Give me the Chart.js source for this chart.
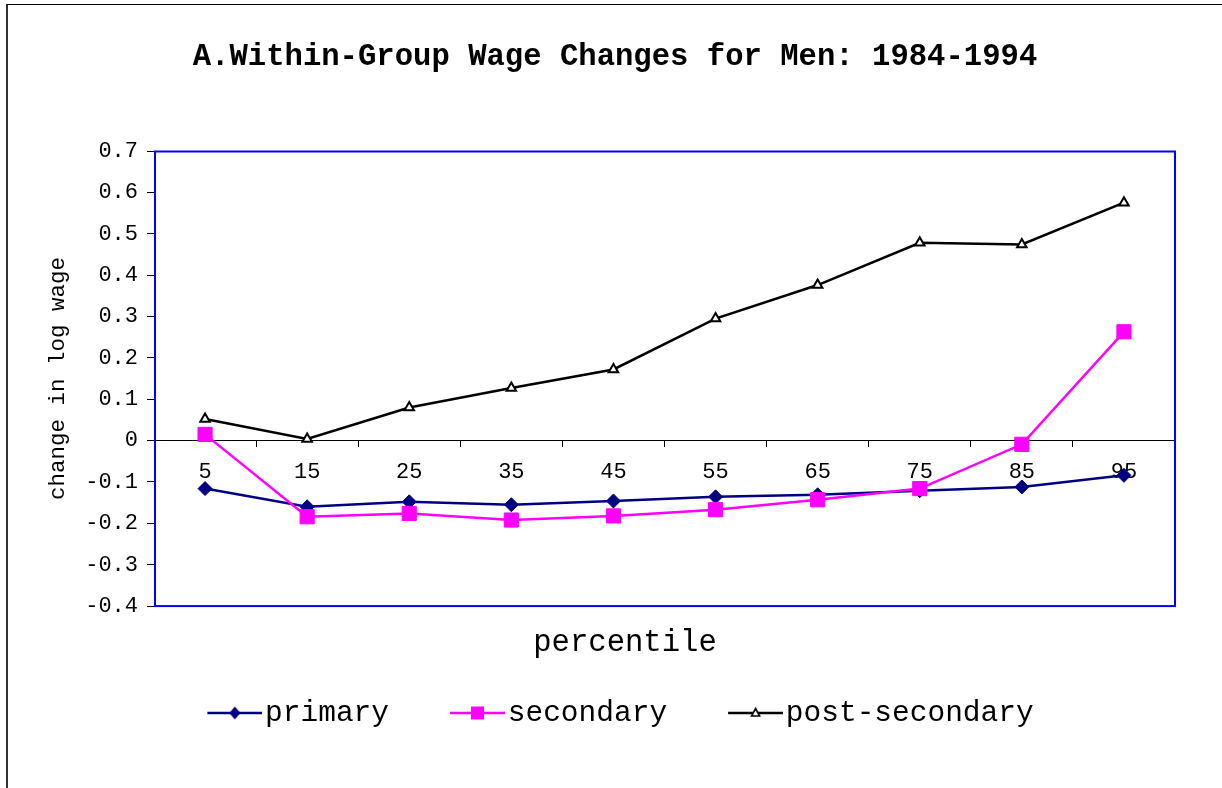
<!DOCTYPE html>
<html>
<head>
<meta charset="utf-8">
<script src="https://cdn.jsdelivr.net/npm/chart.js@4"></script>
<style>
  html, body { margin: 0; padding: 0; background: #fff; overflow: hidden; }
  #wrap { position: relative; width: 1222px; height: 788px; }
  #frame { position: absolute; left: 6px; top: 4px; width: 1400px; height: 900px;
           border-left: 2px solid #333; border-top: 1px solid #000; box-sizing: border-box; }
  #c { position: absolute; left: 0; top: 0; z-index: 1; }
</style>
</head>
<body>
<div id="wrap">
  <div id="frame"></div>
  <canvas id="c" width="1222" height="788"></canvas>
</div>
<script>
// ---- data ----
const chartTitle = 'A.Within-Group Wage Changes for Men: 1984-1994';
const xTitle = 'percentile';
const yTitle = 'change in log wage';
const percentiles = ['5', '15', '25', '35', '45', '55', '65', '75', '85', '95'];
const primary = [-0.116, -0.160, -0.148, -0.155, -0.146, -0.136, -0.131, -0.121, -0.112, -0.084];
const secondary = [0.015, -0.184, -0.176, -0.192, -0.182, -0.167, -0.143, -0.116, -0.009, 0.263];
const postSecondary = [0.052, 0.004, 0.080, 0.127, 0.172, 0.295, 0.376, 0.478, 0.474, 0.575];
const yTicks = [-0.4, -0.3, -0.2, -0.1, 0, 0.1, 0.2, 0.3, 0.4, 0.5, 0.6, 0.7];
const seriesNames = ['primary', 'secondary', 'post-secondary'];

// ---- styles ----
const FONT = "'Liberation Mono', 'Courier New', monospace";
const NAVY = '#000080', MAGENTA = '#FF00FF', BLACK = '#000000';

function legendIcon(kind, color) {
  const c = document.createElement('canvas');
  c.width = 118; c.height = 24;
  const g = c.getContext('2d');
  const x0 = 63, x1 = 118, cy = 12, mx = (x0 + x1) / 2;
  g.strokeStyle = color; g.lineWidth = 2.5;
  g.beginPath(); g.moveTo(x0, cy); g.lineTo(x1, cy); g.stroke();
  if (kind === 'diamond') {
    g.fillStyle = color; g.beginPath();
    g.moveTo(mx, cy - 6.5); g.lineTo(mx + 5.5, cy); g.lineTo(mx, cy + 6.5); g.lineTo(mx - 5.5, cy); g.closePath(); g.fill();
  } else if (kind === 'square') {
    g.fillStyle = color; g.fillRect(mx - 6.5, cy - 6.5, 13, 13);
  } else {
    g.fillStyle = '#fff'; g.lineWidth = 1.6; g.strokeStyle = color;
    g.beginPath(); g.moveTo(mx, cy - 4.5); g.lineTo(mx + 4, cy + 3); g.lineTo(mx - 4, cy + 3); g.closePath(); g.fill(); g.stroke();
  }
  return c;
}
const icons = [legendIcon('diamond', NAVY), legendIcon('square', MAGENTA), legendIcon('triangle', BLACK)];

const framePlugin = {
  id: 'frame',
  afterLayout(chart) {
    if (chart.legend) { chart.legend.left -= 16; chart.legend.right -= 16; }
    if (chart.titleBlock) { chart.titleBlock.left += 4; chart.titleBlock.right += 4; }
    chart.boxes.forEach(b => {
      if (b !== chart.titleBlock && b.options && b.options.text === xTitle) { b.left += 14; b.right += 14; }
    });
  },
  afterDraw(chart) {
    const a = chart.chartArea, ctx = chart.ctx;
    ctx.save();
    ctx.strokeStyle = '#0000FF';
    ctx.lineWidth = 2;
    ctx.strokeRect(a.left + 1, a.top + 0.5, a.right - a.left - 1, a.bottom - a.top - 0.5);
    ctx.restore();
  }
};

new Chart(document.getElementById('c'), {
  type: 'line',
  data: {
    labels: percentiles,
    datasets: [
      { label: seriesNames[0], data: primary, borderColor: NAVY, backgroundColor: NAVY,
        borderWidth: 2.5, pointStyle: 'rectRot', pointRadius: 7, pointBorderWidth: 1,
        pointBackgroundColor: NAVY, pointBorderColor: NAVY, tension: 0, order: 3 },
      { label: seriesNames[1], data: secondary, borderColor: MAGENTA, backgroundColor: MAGENTA,
        borderWidth: 2.5, pointStyle: 'rect', pointRadius: 10, pointBorderWidth: 1,
        pointBackgroundColor: MAGENTA, pointBorderColor: MAGENTA, tension: 0, order: 2 },
      { label: seriesNames[2], data: postSecondary, borderColor: BLACK, backgroundColor: '#fff',
        borderWidth: 2.5, pointStyle: 'triangle', pointRadius: 5.5, pointBorderWidth: 2,
        pointBackgroundColor: '#fff', pointBorderColor: BLACK, tension: 0, order: 1 }
    ]
  },
  options: {
    responsive: false,
    animation: false,
    events: [],
    layout: { padding: { left: 0, right: 0, top: 0, bottom: 50.25 } },
    plugins: {
      title: {
        display: true, text: chartTitle, color: '#000',
        font: { family: FONT, size: 30.6, weight: 'bold' },
        padding: { top: 39, bottom: 75.28 }
      },
      subtitle: {
        display: true, text: xTitle, position: 'bottom', weight: 500, color: '#000',
        font: { family: FONT, size: 30.6, weight: 'normal' },
        padding: { top: 18.6, bottom: 26.85 }
      },
      legend: {
        display: true, position: 'bottom',
        labels: {
          usePointStyle: true, pointStyleWidth: 94, padding: 10, color: '#000',
          font: { family: FONT, size: 29.5 },
          sort: (a, b) => a.datasetIndex - b.datasetIndex,
          generateLabels(chart) {
            const items = Chart.defaults.plugins.legend.labels.generateLabels(chart);
            items.forEach(it => { it.pointStyle = icons[it.datasetIndex]; });
            return items;
          }
        }
      },
      tooltip: { enabled: false }
    },
    scales: {
      x: {
        type: 'category',
        position: { y: 0 },
        offset: true,
        grid: { display: true, drawOnChartArea: false, drawTicks: true, tickLength: 6, offset: true, color: '#000', lineWidth: 1 },
        border: { display: true, color: '#000', width: 1 },
        ticks: { color: '#000', font: { family: FONT, size: 22 }, padding: 12, autoSkip: false, maxRotation: 0 },
        afterFit(s) { s.height = 0; }
      },
      y: {
        type: 'linear',
        position: 'left',
        min: -0.4, max: 0.7,
        afterBuildTicks(s) { s.ticks = yTicks.map(v => ({ value: v })); },
        grid: { display: true, drawOnChartArea: false, drawTicks: true, tickLength: 7, color: '#000' },
        border: { display: false },
        ticks: { color: '#000', font: { family: FONT, size: 22 }, padding: 9 },
        title: { display: true, text: yTitle, color: '#000', font: { family: FONT, size: 22.5 }, padding: { top: 44.5, bottom: 0 } },
        afterFit(s) { s.width = 154; }
      },
      y2: {
        type: 'linear',
        position: 'right',
        display: true,
        grid: { display: false, drawTicks: false },
        border: { display: false },
        ticks: { display: false },
        afterFit(s) { s.width = 47; }
      }
    }
  },
  plugins: [framePlugin]
});
</script>
</body>
</html>
